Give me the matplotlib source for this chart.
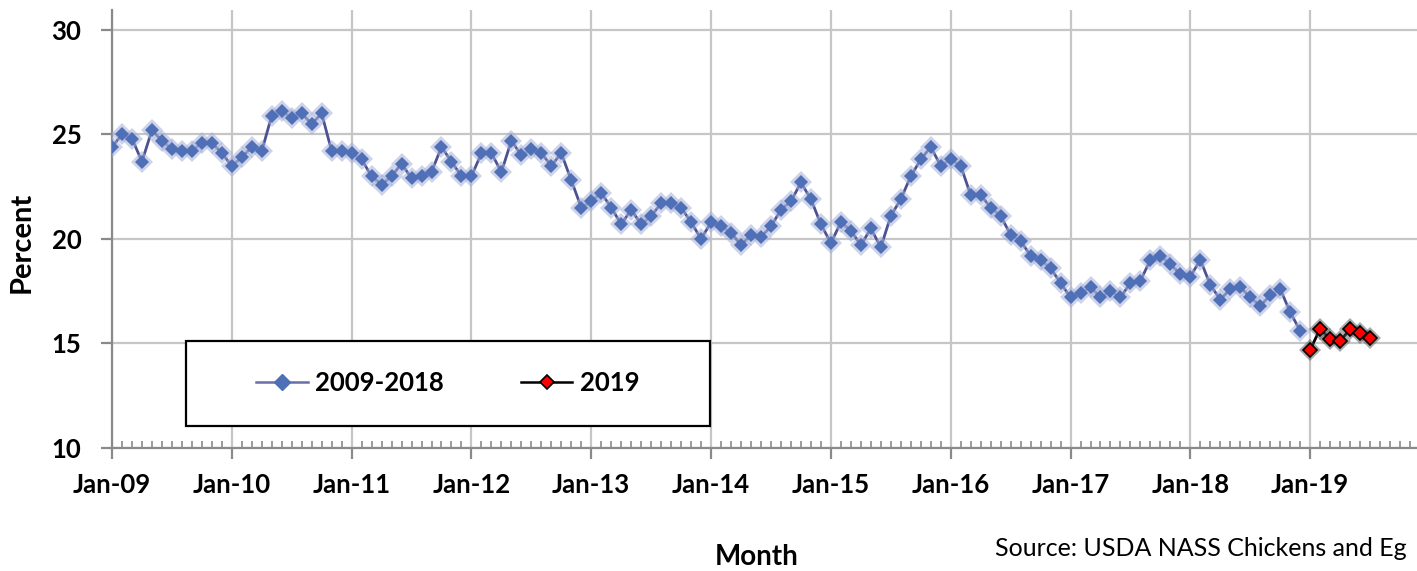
import matplotlib.pyplot as plt
import numpy as np
from matplotlib.lines import Line2D
from matplotlib.patches import Rectangle

plt.rcParams['font.family'] = ['Lato', 'DejaVu Sans']

# valeurs (pourcentage, une valeur par mois)
pct_2009 = [24.4, 25.0, 24.8, 23.7, 25.2, 24.7, 24.3, 24.2, 24.2, 24.6, 24.6, 24.1]
pct_2010 = [23.5, 23.9, 24.4, 24.2, 25.9, 26.1, 25.8, 26.0, 25.5, 26.0, 24.2, 24.2]
pct_2011 = [24.1, 23.8, 23.0, 22.6, 23.0, 23.6, 22.9, 23.0, 23.2, 24.4, 23.7, 23.0]
pct_2012 = [23.0, 24.1, 24.1, 23.2, 24.7, 24.0, 24.3, 24.1, 23.5, 24.1, 22.8, 21.5]
pct_2013 = [21.8, 22.2, 21.5, 20.7, 21.4, 20.7, 21.1, 21.7, 21.7, 21.5, 20.8, 20.0]
pct_2014 = [20.8, 20.6, 20.3, 19.7, 20.2, 20.1, 20.6, 21.4, 21.8, 22.7, 21.9, 20.7]
pct_2015 = [19.8, 20.8, 20.4, 19.7, 20.5, 19.6, 21.1, 21.9, 23.0, 23.8, 24.4, 23.5]
pct_2016 = [23.8, 23.5, 22.1, 22.1, 21.5, 21.1, 20.2, 19.9, 19.2, 19.0, 18.6, 17.9]
pct_2017 = [17.2, 17.4, 17.7, 17.2, 17.5, 17.2, 17.9, 18.0, 19.0, 19.2, 18.8, 18.3]
pct_2018 = [18.2, 19.0, 17.8, 17.1, 17.6, 17.7, 17.2, 16.8, 17.3, 17.6, 16.5, 15.6]
pct_2019 = [14.7, 15.7, 15.2, 15.1, 15.7, 15.5, 15.25]

tick_labels = ["Jan-09", "Jan-10", "Jan-11", "Jan-12", "Jan-13", "Jan-14",
               "Jan-15", "Jan-16", "Jan-17", "Jan-18", "Jan-19"]
y_ticks = [10, 15, 20, 25, 30]

hist = (pct_2009 + pct_2010 + pct_2011 + pct_2012 + pct_2013
        + pct_2014 + pct_2015 + pct_2016 + pct_2017 + pct_2018)

W, H = 1417, 571
fig = plt.figure(figsize=(W / 100, H / 100), dpi=100)
ax = fig.add_axes([112 / W, 1 - 448 / H, 1 - 112 / W, (448 - 10) / H])

x_hist = np.arange(len(hist))
x_new = np.arange(len(hist), len(hist) + len(pct_2019))

# serie 2009-2018
ax.plot(x_hist, hist, color='#4b5192', lw=2.0, zorder=4)
ax.plot(x_hist, hist, ls='none', marker='D', ms=11, color='#a4b0d8',
        alpha=0.55, mew=0, zorder=5)
ax.plot(x_hist, hist, ls='none', marker='D', ms=7.5, color='#4f6fb6',
        mew=0, zorder=6)

# serie 2019
ax.plot(x_new, pct_2019, color='black', lw=2.0, zorder=4)
ax.plot(x_new, pct_2019, ls='none', marker='D', ms=11, color='#555555',
        alpha=0.5, mew=0, zorder=5)
ax.plot(x_new, pct_2019, ls='none', marker='D', ms=7.5, mfc='#ff0000',
        mec='black', mew=1.2, zorder=6)

ax.set_xlim(0, 130.7)
ax.set_ylim(10, 30.95)
ax.set_xticks(np.arange(0, 121, 12))
ax.set_xticklabels(tick_labels)
ax.set_xticks(np.arange(0, 131), minor=True)
ax.set_yticks(y_ticks)

ax.grid(which='major', color='#c6c6c6', lw=1.6)
ax.set_axisbelow(True)
for s in ['top', 'right']:
    ax.spines[s].set_visible(False)
for s in ['left', 'bottom']:
    ax.spines[s].set_color('#8a8a8a')
    ax.spines[s].set_linewidth(1.6)

ax.tick_params(axis='x', which='major', direction='out', length=8, width=1.6,
               color='#8a8a8a', pad=10)
ax.tick_params(axis='x', which='minor', direction='in', length=5, width=1.2,
               color='#8a8a8a')
ax.tick_params(axis='y', which='major', direction='out', length=8, width=1.6,
               color='#8a8a8a', pad=14)
for lab in ax.get_xticklabels() + ax.get_yticklabels():
    lab.set_fontsize(18.5)
    lab.set_fontweight('bold')

fig.text(22 / W, 1 - 242 / H, "Percent", rotation=90, ha='center',
         va='center', fontsize=21, fontweight='bold')
fig.text(757 / W, 1 - 557 / H, "Month", ha='center', va='center',
         fontsize=20, fontweight='bold')
# la source est tronquee sur l'original, on garde le texte visible
fig.text(995 / W, 1 - 548 / H, "Source: USDA NASS Chickens and Eg",
         ha='left', va='center', fontsize=18)

# cadre de la legende
box = Rectangle((186 / W, 1 - 426 / H), 524 / W, 85 / H,
                transform=fig.transFigure, fc='white', ec='black', lw=1.6,
                zorder=2)
fig.patches.append(box)

handles = [
    Line2D([], [], color='#6a6ea6', lw=1.8, marker='D', ms=8.5,
           mfc='#4f6fb6', mec='#4f6fb6'),
    Line2D([], [], color='black', lw=1.8, marker='D', ms=7.5,
           mfc='#ff0000', mec='black', mew=1.2),
]
fig.legend(handles, ["2009-2018", "2019"], loc='center',
           bbox_to_anchor=(448 / W, 1 - 383 / H), ncol=2, frameon=False,
           prop={'size': 18.5, 'weight': 'bold'}, handlelength=2.0,
           handletextpad=0.3, columnspacing=3.0)

fig.savefig("out.png", dpi=100)
